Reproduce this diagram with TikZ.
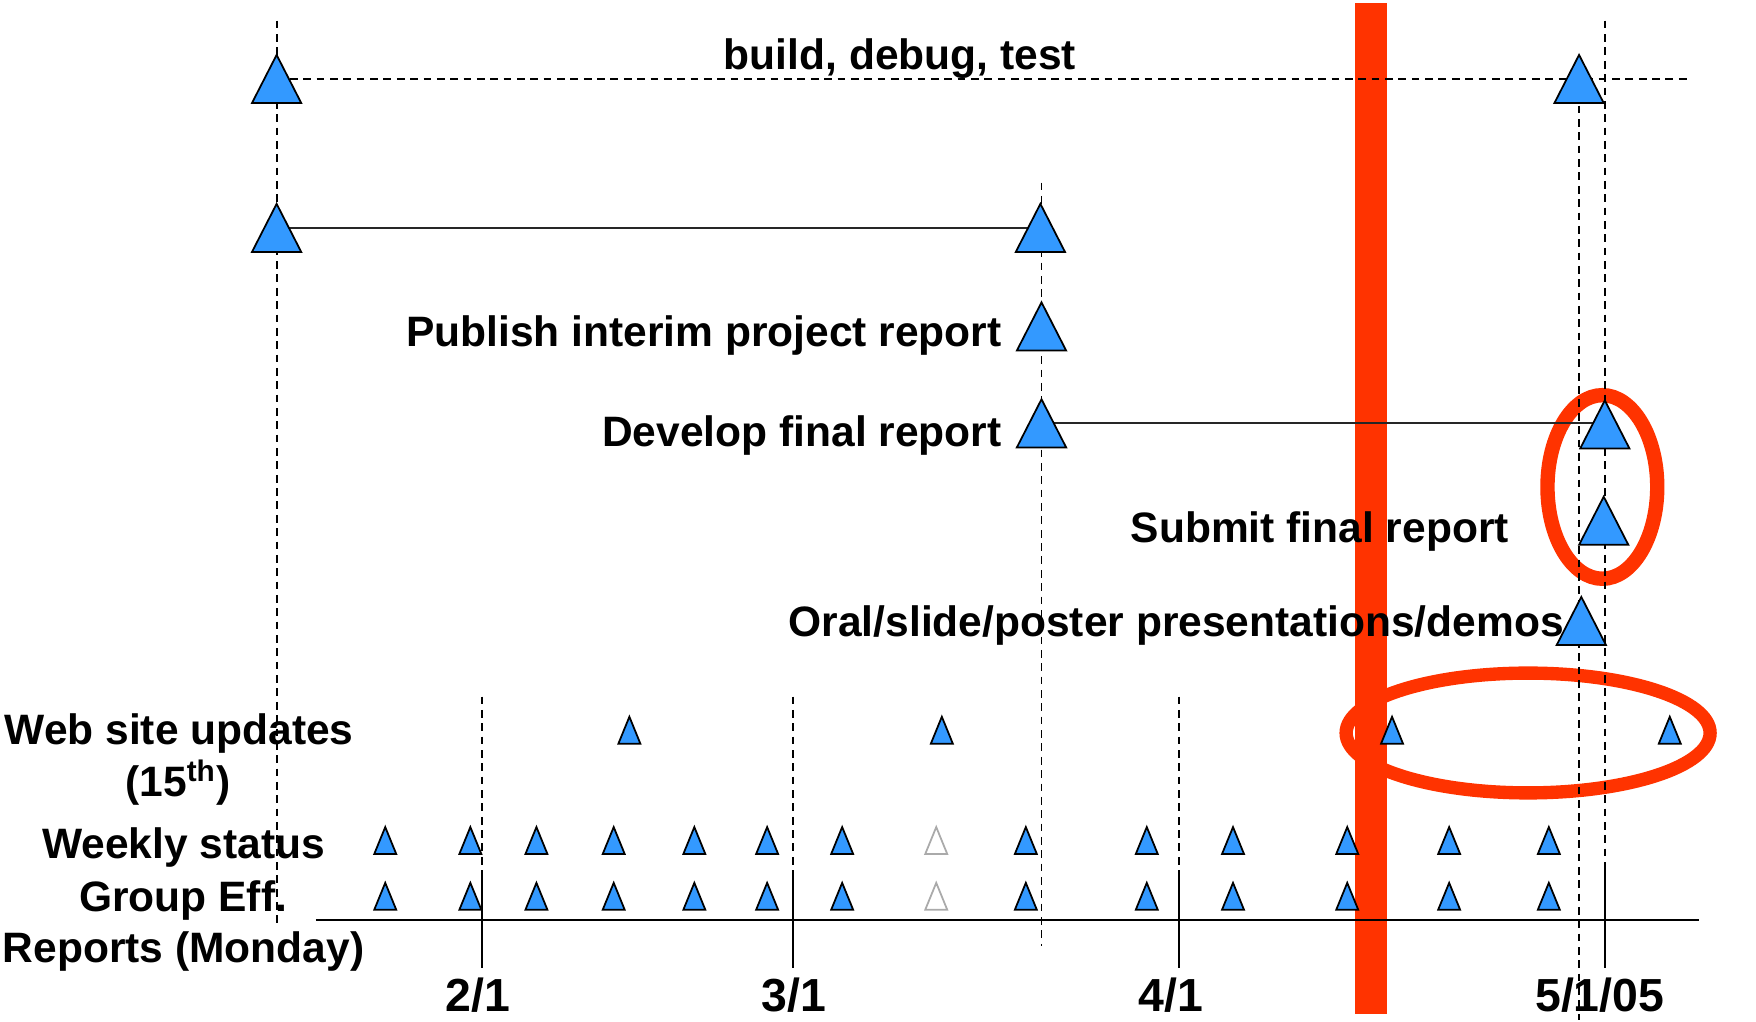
\documentclass[tikz,border=0pt]{standalone}
\usepackage{fontspec}
\setmainfont{Liberation Sans}
\definecolor{triblue}{HTML}{3399FF}
\definecolor{barred}{HTML}{FF3300}
\definecolor{ghost}{HTML}{AAAAAA}
\begin{document}
\begin{tikzpicture}[x=0.0112cm, y=-0.0112cm,
  bigtri/.style={inner sep=0pt, outer sep=0pt, minimum width=0.4928cm, minimum height=0.4816cm},
  smalltri/.style={inner sep=0pt, outer sep=0pt, minimum width=0.2195cm, minimum height=0.2688cm},
  trishape/.style={draw=black, fill=triblue, line width=0.5pt, line join=miter},
  ghostshape/.style={draw=ghost, fill=white, line width=0.5pt, line join=miter},
  guide/.style={draw=black, line width=0.55pt, dash pattern=on 2.2pt off 1.6pt},
  tickline/.style={draw=black, line width=0.55pt},
  link/.style={draw=black!85, line width=0.65pt},
  axisline/.style={draw=black, line width=0.55pt},
  lbl/.style={font=\bfseries\fontsize{12.1}{14}\selectfont, inner sep=0pt},
  ticklbl/.style={font=\bfseries\fontsize{13.2}{15}\selectfont, inner sep=0pt, anchor=base},
  redbar/.style={fill=barred, draw=none},
  redring/.style={draw=barred},
]
\useasboundingbox (0,0) rectangle (1568,912);

% today bar and highlight rings
\fill[redbar] (1209.5,3) rectangle (1238.5,905);
\draw[redring, line width=4.1pt] (1430.8,434.8) ellipse [x radius=0.549cm, y radius=0.918cm];
\draw[redring, line width=3.8pt] (1364.5,654.5) ellipse [x radius=1.82cm, y radius=0.599cm];

% milestone nodes (big)
\node[bigtri] (A1) at (247,70.5) {};
\node[bigtri] (A2) at (1410,70.5) {};
\node[bigtri] (B1) at (247,203.5) {};
\node[bigtri] (B2) at (929,203.5) {};
\node[bigtri] (C)  at (930,291.5) {};
\node[bigtri] (D1) at (930,378) {};
\node[bigtri] (D2) at (1433,379) {};
\node[bigtri] (E)  at (1432,465) {};
\node[bigtri] (F)  at (1412,554.5) {};

% small markers
\foreach \x [count=\i] in {562,841,1243,1491} {
  \node[smalltri] (web\i) at (\x,652) {};
}
\foreach \x [count=\i] in {344,420,479,548,620,685,752,836,916,1024,1101,1203,1294,1383} {
  \node[smalltri] (wk\i) at (\x,750.5) {};
  \node[smalltri] (ge\i) at (\x,800.3) {};
}

% guide coordinates
\coordinate (g1t) at (247,18.5);  \coordinate (g1b) at (247,828);
\coordinate (g2t) at (930,163);   \coordinate (g2b) at (930,845);
\coordinate (g3b) at (1410,911);
\coordinate (g4t) at (1433,18.5); \coordinate (g4m) at (1433,777); \coordinate (g4b) at (1433,864.5);
\coordinate (topend) at (1511,70.5);
\coordinate (axL) at (282,821.5); \coordinate (axR) at (1517.5,821.5);

% vertical guides
\draw[guide] (g1t) -- (g1b);
\draw[guide] (g2t) -- (g2b);
\draw[guide] (A2.center) -- (g3b);
\draw[guide] (g4t) -- (g4m);
\draw[tickline] (g4m) -- (g4b);
\foreach \x/\n in {430.5/a,708/b,1053/c} {
  \coordinate (t\n t) at (\x,622);
  \coordinate (t\n m) at (\x,777);
  \coordinate (t\n b) at (\x,864.5);
  \draw[guide] (t\n t) -- (t\n m);
  \draw[tickline] (t\n m) -- (t\n b);
}

% connectors
\draw[guide] (A1.center) -- (topend);
\draw[link] (B1.center) -- (B2.center);
\draw[link] (D1.center) -- (D1.center -| D2.center);
\draw[axisline] (axL) -- (axR);

% triangle shapes
\foreach \n in {A1,A2,B1,B2,C,D1,D2,E,F,web1,web2,web3,web4} {
  \filldraw[trishape] (\n.south west) -- (\n.north) -- (\n.south east) -- cycle;
}
\foreach \i in {1,2,3,4,5,6,7,9,10,11,12,13,14} {
  \filldraw[trishape] (wk\i.south west) -- (wk\i.north) -- (wk\i.south east) -- cycle;
  \filldraw[trishape] (ge\i.south west) -- (ge\i.north) -- (ge\i.south east) -- cycle;
}
\filldraw[ghostshape] (wk8.south west) -- (wk8.north) -- (wk8.south east) -- cycle;
\filldraw[ghostshape] (ge8.south west) -- (ge8.north) -- (ge8.south east) -- cycle;

% labels
\node[lbl, anchor=base] (tbuild) at (803.5,62) {build, debug, test};
\node[lbl, anchor=base east] (tpub) at (895,309.5) {Publish interim project report};
\node[lbl, anchor=base east] (tdev) at (895,399) {Develop final report};
\node[lbl, anchor=base] (tsub) at (1178.5,484) {Submit final report};
\node[lbl, anchor=base east] (toral) at (1397,568) {Oral/slide/poster presentations/demos};
\node[lbl, anchor=base] (tweb) at (160,664.5) {Web site updates};
\node[lbl, anchor=base] (t15) at (159,711.5) {(15\textsuperscript{th})};
\node[lbl, anchor=base] (tweek) at (164,766.5) {Weekly status};
\node[lbl, anchor=base] (tgrp) at (163.5,813.5) {Group Eff.};
\node[lbl, anchor=base] (trep) at (164,859.5) {Reports (Monday)};

\node[ticklbl] (d21) at (427,903.5) {2/1};
\node[ticklbl] (d31) at (709,903.5) {3/1};
\node[ticklbl] (d41) at (1045.5,903.5) {4/1};
\node[ticklbl] (d51) at (1428.5,903.5) {5/1/05};
\end{tikzpicture}
\end{document}
